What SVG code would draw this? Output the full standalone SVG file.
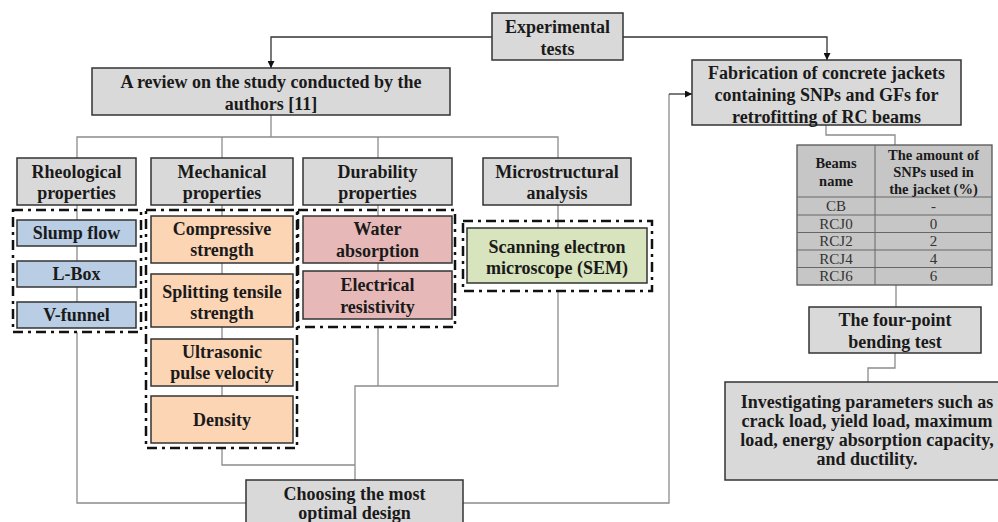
<svg xmlns="http://www.w3.org/2000/svg" width="998" height="522" viewBox="0 0 998 522">
<defs>
<style>
.t{font-family:"Liberation Serif","Times New Roman",serif;font-weight:bold;font-size:18px;fill:#1a1a1a;text-anchor:middle}
.ts{font-family:"Liberation Serif","Times New Roman",serif;font-weight:bold;font-size:14.5px;fill:#1a1a1a;text-anchor:middle}
.tr{font-family:"Liberation Serif","Times New Roman",serif;font-size:15px;fill:#333;text-anchor:middle}
.box{stroke:#333;stroke-width:1.5}
.gray{fill:#d9d9d9}
.blue{fill:#b9cde5}
.orange{fill:#fcd5b5}
.pink{fill:#e6b9b8}
.green{fill:#d7e4bd}
.grp{fill:none;stroke:#111;stroke-width:2.5;stroke-dasharray:10,5,3,5}
.ln{fill:none;stroke:#8c8c8c;stroke-width:1.3}
.ar{fill:none;stroke:#333;stroke-width:1.3}
</style>
<marker id="ah" viewBox="0 0 10 10" refX="10" refY="5" markerWidth="7" markerHeight="7" markerUnits="userSpaceOnUse" orient="auto">
<path d="M0,0 L10,5 L0,10 z" fill="#111"/>
</marker>
</defs>

<g id="connectors">
<path class="ar" d="M492,37 H271 V68" marker-end="url(#ah)"/>
<path class="ar" d="M623,37 H827 V60" marker-end="url(#ah)"/>
<path class="ln" d="M271,115 V137"/>
<path class="ln" d="M77,158 V137 H558 V158"/>
<path class="ln" d="M222,137 V158"/>
<path class="ln" d="M378,137 V158"/>
<path class="ln" d="M77,205 V220 M77,246 V261 M77,287 V302"/>
<path class="ln" d="M77,332 V503 H246"/>
<path class="ln" d="M222,205 V216 M222,263 V274 M222,327 V339 M222,386 V396"/>
<path class="ln" d="M222,448 V465 H355"/>
<path class="ln" d="M378,205 V216 M378,263 V271"/>
<path class="ln" d="M378,327 V386"/>
<path class="ln" d="M558,205 V228"/>
<path class="ln" d="M558,291 V386 H355 V480"/>
<path class="ln" d="M463,503 H669 V94"/>
<path class="ar" d="M669,94 H692" marker-end="url(#ah)"/>
<path class="ln" d="M826,125 V135 H895 V145"/>
<path class="ln" d="M896,285 V307"/>
<path class="ln" d="M895,353 V368 H868 V382"/>
</g>

<g id="experimental-tests">
<rect class="box gray" x="492" y="13" width="131" height="47"/>
<text class="t" x="557.5" y="33">Experimental</text>
<text class="t" x="557.5" y="55">tests</text>
</g>

<g id="review">
<rect class="box gray" x="92" y="68" width="358" height="47"/>
<text class="t" x="271" y="88">A review on the study conducted by the</text>
<text class="t" x="271" y="110">authors [11]</text>
</g>

<g id="fabrication">
<rect class="box gray" x="692" y="60" width="269" height="65"/>
<text class="t" x="826.5" y="79">Fabrication of concrete jackets</text>
<text class="t" x="826.5" y="101">containing SNPs and GFs for</text>
<text class="t" x="826.5" y="123">retrofitting of RC beams</text>
</g>

<g id="rheological">
<rect class="box gray" x="17" y="158" width="119" height="47"/>
<text class="t" x="76.5" y="178">Rheological</text>
<text class="t" x="76.5" y="199">properties</text>
</g>
<g id="mechanical">
<rect class="box gray" x="151" y="158" width="142" height="47"/>
<text class="t" x="222" y="178">Mechanical</text>
<text class="t" x="222" y="199">properties</text>
</g>
<g id="durability">
<rect class="box gray" x="303" y="158" width="149" height="47"/>
<text class="t" x="377.5" y="178">Durability</text>
<text class="t" x="377.5" y="199">properties</text>
</g>
<g id="microstructural">
<rect class="box gray" x="483" y="158" width="148" height="47"/>
<text class="t" x="557" y="178">Microstructural</text>
<text class="t" x="557" y="199">analysis</text>
</g>

<g id="rheo-group">
<rect class="grp" x="13" y="210" width="128" height="122"/>
</g>
<g id="mech-group">
<rect class="grp" x="146" y="210" width="151" height="238"/>
</g>
<g id="dur-group">
<rect class="grp" x="298" y="210" width="157" height="117"/>
</g>
<g id="micro-group">
<rect class="grp" x="463" y="221" width="189" height="70"/>
</g>

<g id="slump-flow">
<rect class="box blue" x="17" y="220" width="119" height="26"/>
<text class="t" x="76.5" y="239">Slump flow</text>
</g>
<g id="l-box">
<rect class="box blue" x="17" y="261" width="119" height="26"/>
<text class="t" x="76.5" y="280">L-Box</text>
</g>
<g id="v-funnel">
<rect class="box blue" x="17" y="302" width="119" height="26"/>
<text class="t" x="76.5" y="321">V-funnel</text>
</g>

<g id="compressive">
<rect class="box orange" x="151" y="216" width="142" height="47"/>
<text class="t" x="222" y="235">Compressive</text>
<text class="t" x="222" y="256">strength</text>
</g>
<g id="splitting">
<rect class="box orange" x="151" y="274" width="142" height="53"/>
<text class="t" x="222" y="298">Splitting tensile</text>
<text class="t" x="222" y="319">strength</text>
</g>
<g id="ultrasonic">
<rect class="box orange" x="151" y="339" width="142" height="47"/>
<text class="t" x="222" y="358">Ultrasonic</text>
<text class="t" x="222" y="379">pulse velocity</text>
</g>
<g id="density">
<rect class="box orange" x="151" y="396" width="142" height="47"/>
<text class="t" x="222" y="426">Density</text>
</g>

<g id="water">
<rect class="box pink" x="303" y="216" width="149" height="47"/>
<text class="t" x="377.5" y="235">Water</text>
<text class="t" x="377.5" y="257">absorption</text>
</g>
<g id="electrical">
<rect class="box pink" x="303" y="271" width="149" height="48"/>
<text class="t" x="377.5" y="291">Electrical</text>
<text class="t" x="377.5" y="313">resistivity</text>
</g>

<g id="sem">
<rect class="box green" x="467" y="228" width="180" height="55"/>
<text class="t" x="557" y="253">Scanning electron</text>
<text class="t" x="557" y="274">microscope (SEM)</text>
</g>

<g id="choosing">
<rect class="box gray" x="246" y="480" width="217" height="50"/>
<text class="t" x="354.5" y="500">Choosing the most</text>
<text class="t" x="354.5" y="519">optimal design</text>
</g>

<g id="table">
<rect x="797" y="145" width="195" height="140" fill="#c6c6c6" stroke="#555" stroke-width="1.3"/>
<g stroke="#666" stroke-width="1">
<line x1="875" y1="145" x2="875" y2="285"/>
<line x1="797" y1="197" x2="992" y2="197"/>
<line x1="797" y1="215" x2="992" y2="215"/>
<line x1="797" y1="232.5" x2="992" y2="232.5"/>
<line x1="797" y1="250" x2="992" y2="250"/>
<line x1="797" y1="267.5" x2="992" y2="267.5"/>
</g>
<text class="ts" x="836" y="168">Beams</text>
<text class="ts" x="836" y="186">name</text>
<text class="ts" x="933.5" y="160">The amount of</text>
<text class="ts" x="933.5" y="177">SNPs used in</text>
<text class="ts" x="933.5" y="194">the jacket (%)</text>
<text class="tr" x="836" y="211">CB</text>
<text class="tr" x="836" y="229">RCJ0</text>
<text class="tr" x="836" y="246">RCJ2</text>
<text class="tr" x="836" y="264">RCJ4</text>
<text class="tr" x="836" y="281">RCJ6</text>
<text class="tr" x="933.5" y="211">-</text>
<text class="tr" x="933.5" y="229">0</text>
<text class="tr" x="933.5" y="246">2</text>
<text class="tr" x="933.5" y="264">4</text>
<text class="tr" x="933.5" y="281">6</text>
</g>

<g id="four-point">
<rect class="box gray" x="809" y="307" width="172" height="46"/>
<text class="t" x="895" y="326">The four-point</text>
<text class="t" x="895" y="348">bending test</text>
</g>

<g id="investigating">
<rect class="box gray" x="725" y="382" width="285" height="98"/>
<text class="t" x="867" y="408">Investigating parameters such as</text>
<text class="t" x="867" y="427">crack load, yield load, maximum</text>
<text class="t" x="867" y="446">load, energy absorption capacity,</text>
<text class="t" x="867" y="465">and ductility.</text>
</g>
</svg>
